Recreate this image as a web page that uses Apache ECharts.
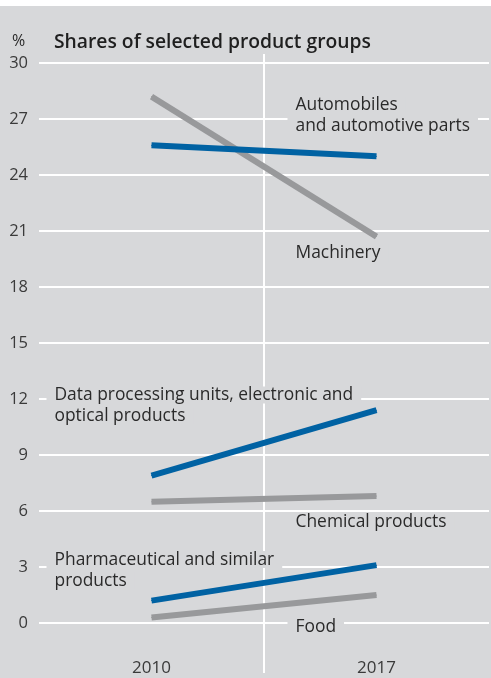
<!DOCTYPE html>
<html>
<head>
<meta charset="utf-8">
<script src="https://cdn.jsdelivr.net/npm/echarts@6/dist/echarts.min.js"></script>
<style>
  html, body { margin: 0; padding: 0; background: #ffffff; }
  #chart { width: 491px; height: 672px; margin-top: 6px; }
</style>
</head>
<body>
<div id="chart"></div>
<script>
// Shares of selected product groups, in percent
const years = ['2010', '2017'];
const automobiles = [25.6, 25.0];
const machinery = [28.2, 20.7];
const dataProcessing = [7.9, 11.4];
const chemical = [6.5, 6.8];
const pharmaceutical = [1.2, 3.1];
const food = [0.3, 1.5];
const yMin = 0, yMax = 30, yStep = 3;

const labelAutomobiles = ['Automobiles', 'and automotive parts'];
const labelMachinery = ['Machinery'];
const labelDataProcessing = ['Data processing units, electronic and', 'optical products'];
const labelChemical = ['Chemical products'];
const labelPharmaceutical = ['Pharmaceutical and similar', 'products'];
const labelFood = ['Food'];

// Styling
const BG = '#d7d8da';
const BLUE = '#0062a3';
const GREY = '#98999b';
const TEXT = '#2a2a2a';
const FONT = '"Open Sans", "Noto Sans", sans-serif';

// Builds one line series; the name label is attached to one of its points
function lineSeries(name, values, color, lines, pointIndex, offset, lineHeight) {
  const label = {
    show: true,
    position: offset,
    align: 'left',
    verticalAlign: 'top',
    formatter: lines.map(l => '{t|' + l + '}').join('\n'),
    rich: {
      t: {
        fontFamily: FONT,
        fontSize: 17.4,
        lineHeight: lineHeight || 21,
        color: TEXT,
        backgroundColor: BG,
        padding: [0, 8, 0, 8]
      }
    }
  };
  return {
    name: name,
    type: 'line',
    xAxisIndex: 0,
    yAxisIndex: 0,
    silent: true,
    symbol: 'circle',
    symbolSize: 1,
    showSymbol: true,
    itemStyle: { color: color },
    lineStyle: { color: color, width: 6, cap: 'butt' },
    emphasis: { disabled: true },
    label: { show: false },
    data: values.map((v, i) => i === pointIndex ? { value: v, label: label } : v)
  };
}

const chart = echarts.init(document.getElementById('chart'), null, { renderer: 'canvas' });
chart.setOption({
  animation: false,
  backgroundColor: BG,
  title: [
    { text: '%', left: 12, top: 25, padding: 0,
      textStyle: { fontFamily: FONT, fontSize: 16, fontWeight: 'normal', color: TEXT, lineHeight: 20 } },
    { text: 'Shares of selected product groups', left: 54, top: 26, padding: 0,
      textStyle: { fontFamily: FONT, fontSize: 19.3, fontWeight: 600, color: '#1f1f1f', lineHeight: 22 } }
  ],
  grid: [
    { left: 39, right: 2, top: 57, bottom: 55 },
    { left: 39, right: 2, top: 48, bottom: 5 }
  ],
  xAxis: [
    {
      gridIndex: 0, type: 'category', data: years, boundaryGap: true,
      axisLine: { show: false }, axisTick: { show: false }, splitLine: { show: false },
      axisLabel: { fontFamily: FONT, fontSize: 17, color: '#3a3a3a', margin: 37 }
    },
    {
      // divider between the two years
      gridIndex: 1, type: 'category', data: years, boundaryGap: true,
      axisLine: { show: false }, axisTick: { show: false }, axisLabel: { show: false },
      splitLine: { show: true, showMinLine: false, showMaxLine: false,
        lineStyle: { color: '#ffffff', width: 2 } }
    }
  ],
  yAxis: [
    {
      gridIndex: 0, type: 'value', min: yMin, max: yMax, interval: yStep,
      axisLine: { show: false }, axisTick: { show: false },
      axisLabel: { fontFamily: FONT, fontSize: 16.5, color: '#3a3a3a', margin: 11, padding: [2, 0, 0, 0] },
      splitLine: { show: true, lineStyle: { color: '#ffffff', width: 2 } }
    },
    { gridIndex: 1, type: 'value', show: false }
  ],
  series: [
    lineSeries('Machinery', machinery, GREY, labelMachinery, 1, [-88.5, 6.5]),
    lineSeries('Chemical products', chemical, GREY, labelChemical, 1, [-88.5, 13], 27),
    lineSeries('Food', food, GREY, labelFood, 1, [-88.5, 22.5]),
    lineSeries('Automobiles and automotive parts', automobiles, BLUE, labelAutomobiles, 1, [-88.5, -61]),
    lineSeries('Data processing units, electronic and optical products', dataProcessing, BLUE, labelDataProcessing, 0, [-104.5, -90.5]),
    lineSeries('Pharmaceutical and similar products', pharmaceutical, BLUE, labelPharmaceutical, 0, [-104.5, -51])
  ]
});
</script>
</body>
</html>
